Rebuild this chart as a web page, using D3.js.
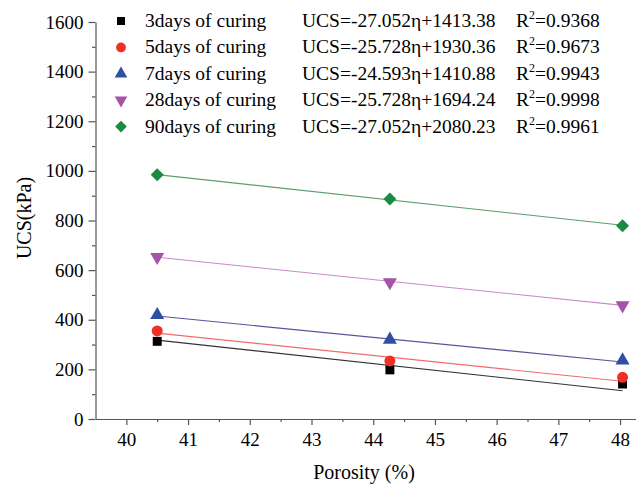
<!DOCTYPE html>
<html><head><meta charset="utf-8">
<script src="https://cdn.jsdelivr.net/npm/d3@7"></script></head>
<body style="margin:0">
<svg id="c" width="636" height="484"></svg>
<script>
// ---- data ----
const porosity = [40.5, 44.27, 48.04];
const seriesNames = ["3days of curing","5days of curing","7days of curing","28days of curing","90days of curing"];
const ucs3  = [313, 198, 141];
const ucs5  = [355, 234, 168];
const ucs7  = [419, 320, 236];
const ucs28 = [653, 551, 458];
const ucs90 = [984, 887, 779];
const fitStart = [318, 346, 415, 652, 985];   // fitted line value at first porosity
const fitEnd   = [114, 152, 230, 458, 781];   // fitted line value at last porosity
const equations = ["UCS=-27.052η+1413.38","UCS=-25.728η+1930.36","UCS=-24.593η+1410.88","UCS=-25.728η+1694.24","UCS=-27.052η+2080.23"];
const r2Values = ["0.9368","0.9673","0.9943","0.9998","0.9961"];
const xTicks = [40,41,42,43,44,45,46,47,48];
const yTicks = [0,200,400,600,800,1000,1200,1400,1600];

const seriesValues = [ucs3, ucs5, ucs7, ucs28, ucs90];
const markerColors = ["#000000","#ee3124","#2f4fa2","#a552a8","#1b8a43"];
const lineColors   = ["#333333","#f26b6b","#55559a","#c98ac9","#5a9e6e"];
const markerTypes  = [d3.symbolSquare, d3.symbolCircle, d3.symbolTriangle, d3.symbolTriangle, d3.symbolSquare];
const markerSizes  = [80, 95, 85, 85, 85];
const markerRot    = [0,0,0,180,45];

const FONT = "Liberation Serif";
const svg = d3.select("#c");
const x = d3.scaleLinear().domain([39.5, 48.25]).range([95.5, 635.5]);
const y = d3.scaleLinear().domain([0, 1600]).range([419, 22]);

const axisColor = "#555";
// x axis
const gx = svg.append("g").attr("transform","translate(0,419)");
gx.call(d3.axisBottom(x).tickValues(xTicks).tickSize(6).tickSizeOuter(0).tickPadding(8).tickFormat(d3.format("d")));
const gxm = svg.append("g").attr("transform","translate(0,419)");
gxm.call(d3.axisBottom(x).tickValues(d3.range(40.5,48,1)).tickSize(3).tickSizeOuter(0).tickFormat(""));
gxm.select(".domain").remove();
// y axis
const gy = svg.append("g").attr("transform","translate(95.5,0)");
gy.call(d3.axisLeft(y).tickValues(yTicks).tickSize(7).tickSizeOuter(0).tickPadding(5).tickFormat(d3.format("d")));
const gym = svg.append("g").attr("transform","translate(95.5,0)");
gym.call(d3.axisLeft(y).tickValues(d3.range(100,1600,200)).tickSize(3.5).tickSizeOuter(0).tickFormat(""));
gym.select(".domain").remove();

svg.selectAll(".domain, .tick line").attr("stroke", axisColor).attr("stroke-width", 1.2);
svg.selectAll(".tick text").attr("font-size", 19).attr("font-family", FONT).attr("fill","#000");

// axis titles
svg.append("text").attr("x", 364).attr("y", 479).attr("text-anchor","middle").attr("font-size",20).attr("font-family",FONT).text("Porosity (%)");
svg.append("text").attr("transform","translate(31,218) rotate(-90)").attr("text-anchor","middle").attr("font-size",20).attr("font-family",FONT).text("UCS(kPa)");

// fit lines
seriesValues.forEach((vals,i)=>{
  svg.append("line")
    .attr("x1", x(porosity[0])).attr("y1", y(fitStart[i]))
    .attr("x2", x(porosity[porosity.length-1])).attr("y2", y(fitEnd[i]))
    .attr("stroke", lineColors[i]).attr("stroke-width", 1.1);
});
// markers
seriesValues.forEach((vals,i)=>{
  const sym = d3.symbol().type(markerTypes[i]).size(markerSizes[i]);
  svg.append("g").selectAll("path").data(vals).join("path")
    .attr("d", sym)
    .attr("transform", (d,j)=>`translate(${x(porosity[j])},${y(d)}) rotate(${markerRot[i]})`)
    .attr("fill", markerColors[i]);
});

// legend
const lg = svg.append("g");
seriesNames.forEach((name,i)=>{
  const cy = 21 + i*26.4;
  const sym = d3.symbol().type(markerTypes[i]).size(markerSizes[i]*0.8);
  lg.append("path").attr("d", sym).attr("transform",`translate(121,${cy}) rotate(${markerRot[i]})`).attr("fill", markerColors[i]);
  lg.append("text").attr("x",145).attr("y",cy+6).attr("font-size",19.5).attr("font-family",FONT).text(name);
  lg.append("text").attr("x",302).attr("y",cy+6).attr("font-size",19.5).attr("font-family",FONT).text(equations[i]);
  const t = lg.append("text").attr("x",516).attr("y",cy+6).attr("font-size",19.5).attr("font-family",FONT);
  t.append("tspan").text("R");
  t.append("tspan").attr("font-size",12).attr("dy",-8).text("2");
  t.append("tspan").attr("dy",8).text("=" + r2Values[i]);
});
</script></body></html>
